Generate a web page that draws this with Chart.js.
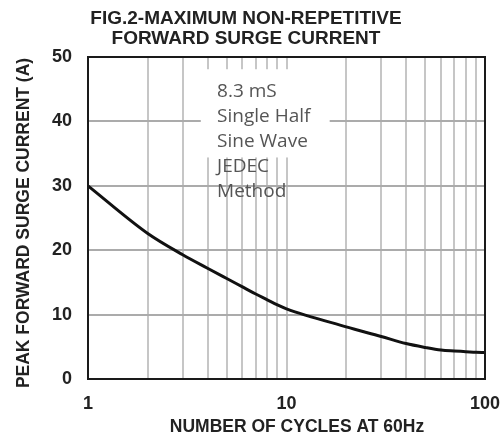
<!DOCTYPE html>
<html>
<head>
<meta charset="utf-8">
<script src="https://cdn.jsdelivr.net/npm/chart.js@4/dist/chart.umd.min.js"></script>
<style>
  html, body { margin: 0; padding: 0; background: #fff; }
  #c { display: block; }
</style>
</head>
<body>
<canvas id="c" width="504" height="441"></canvas>
<script>
// ---- data ----
const cycles = [1, 2, 3, 4, 5, 6, 7, 8, 9, 10, 20, 30, 40, 50, 60, 70, 80, 90, 100];
const surgeCurrent = [30, 22.6, 19.3, 17.2, 15.6, 14.3, 13.2, 12.3, 11.5, 10.9, 8.1, 6.6, 5.5, 4.9, 4.5, 4.35, 4.25, 4.15, 4.1];
const xGridValues = [1, 2, 3, 4, 5, 6, 7, 8, 9, 10, 20, 30, 40, 50, 60, 70, 80, 90, 100];
const xTickLabels = [1, 10, 100];
const yTicks = [0, 10, 20, 30, 40, 50];
const titleLines = ['FIG.2-MAXIMUM NON-REPETITIVE', 'FORWARD SURGE CURRENT'];
const xAxisTitle = 'NUMBER OF CYCLES AT 60Hz';
const yAxisTitle = 'PEAK FORWARD SURGE CURRENT (A)';
const noteLines = ['8.3 mS', 'Single Half', 'Sine Wave', 'JEDEC', 'Method'];

const FAMILY = '"Liberation Sans", Arial, sans-serif';

const decorPlugin = {
  id: 'decor',
  beforeDatasetsDraw(chart) {
    const {ctx, scales: {x, y}} = chart;
    // white note box covering part of the grid (placed in data space)
    const bx0 = x.getPixelForValue(3.7), bx1 = x.getPixelForValue(16.5);
    const by0 = y.getPixelForValue(48.1), by1 = y.getPixelForValue(34.4);
    ctx.save();
    ctx.fillStyle = '#ffffff';
    ctx.fillRect(bx0, by0, bx1 - bx0, by1 - by0);
    ctx.fillStyle = '#555';
    ctx.font = '19px "Open Sans", sans-serif';
    ctx.textAlign = 'left';
    ctx.textBaseline = 'middle';
    const tx = x.getPixelForValue(4.47);
    const ty = y.getPixelForValue(44.7);
    noteLines.forEach((t, i) => ctx.fillText(t, tx, ty + i * 25));
    ctx.restore();
  },
  afterDatasetsDraw(chart) {
    const {ctx, chartArea: a} = chart;
    ctx.save();
    ctx.strokeStyle = '#1a1a1a';
    ctx.lineWidth = 2;
    ctx.strokeRect(a.left, a.top, a.right - a.left, a.bottom - a.top);
    ctx.restore();
  },
  afterDraw(chart) {
    const {ctx} = chart;
    ctx.save();
    ctx.fillStyle = '#222';
    ctx.textAlign = 'center';
    ctx.textBaseline = 'middle';
    ctx.font = 'bold 19px ' + FAMILY;
    ctx.fillText(titleLines[0], 246, 18.5);
    ctx.fillText(titleLines[1], 246, 38.5);
    ctx.font = 'bold 17.5px ' + FAMILY;
    ctx.fillText(xAxisTitle, 297, 427);
    ctx.translate(24, 223);
    ctx.rotate(-Math.PI / 2);
    ctx.fillText(yAxisTitle, 0, 0);
    ctx.restore();
  }
};

new Chart(document.getElementById('c'), {
  type: 'line',
  data: {
    datasets: [{
      data: cycles.map((c, i) => ({x: c, y: surgeCurrent[i]})),
      borderColor: '#111',
      borderWidth: 3,
      pointRadius: 0,
      fill: false,
      cubicInterpolationMode: 'monotone'
    }]
  },
  options: {
    responsive: false,
    animation: false,
    devicePixelRatio: 1,
    layout: { padding: { top: 57, right: 19, left: 0, bottom: 0 } },
    plugins: { legend: { display: false }, tooltip: { enabled: false }, title: { display: false } },
    scales: {
      x: {
        type: 'logarithmic',
        min: 1, max: 100,
        afterBuildTicks: s => { s.ticks = xGridValues.map(v => ({value: v})); },
        afterFit: s => { s.height = 62; s.paddingLeft = 0; s.paddingRight = 0; },
        border: { display: false },
        grid: { color: '#c6c6c6', lineWidth: 2, drawTicks: false },
        ticks: {
          autoSkip: false, maxRotation: 0, padding: 14,
          color: '#222', font: { family: FAMILY, size: 18, weight: 'bold' },
          callback: v => xTickLabels.includes(v) ? String(v) : ''
        }
      },
      y: {
        min: 0, max: 50,
        afterBuildTicks: s => { s.ticks = yTicks.map(v => ({value: v})); },
        afterFit: s => { s.width = 88; s.paddingTop = 0; s.paddingBottom = 0; },
        border: { display: false },
        grid: { color: '#ababab', lineWidth: 2, drawTicks: false },
        ticks: {
          padding: 16,
          color: '#222', font: { family: FAMILY, size: 18, weight: 'bold' }
        }
      }
    }
  },
  plugins: [decorPlugin]
});
</script>
</body>
</html>
